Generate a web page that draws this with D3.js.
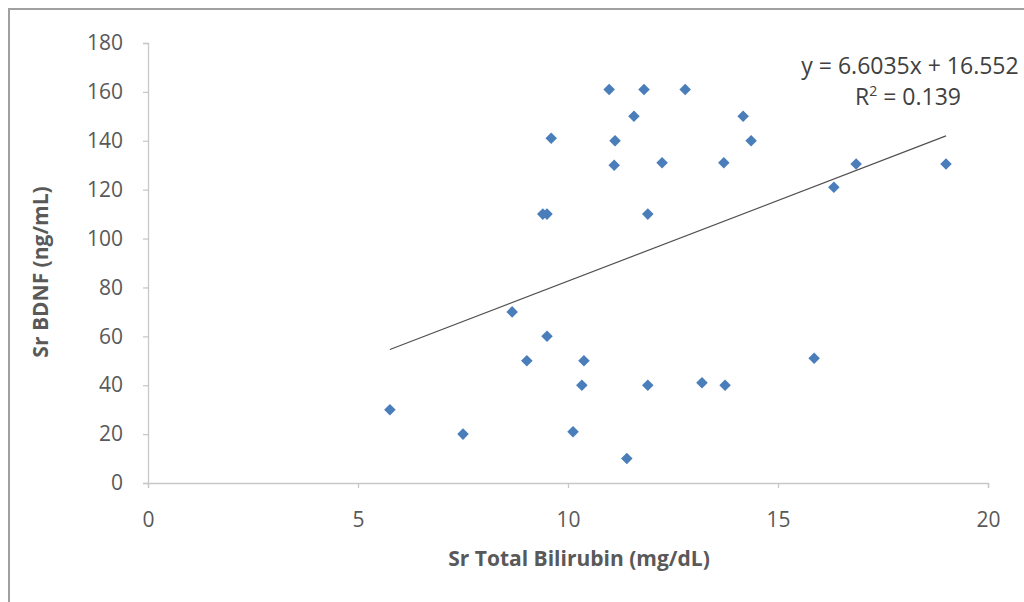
<!DOCTYPE html>
<html>
<head>
<meta charset="utf-8">
<script src="https://cdn.jsdelivr.net/npm/d3@7"></script>
<style>
  body { margin: 0; background: #fff; }
  svg { display: block; font-family: "Open Sans", "Lato", sans-serif; }
</style>
</head>
<body>
<svg id="chart" width="1024" height="602"></svg>
<script>
// data
var bilirubin = [5.76, 7.5, 8.67, 9.02, 9.4, 9.5, 9.5, 9.6, 10.12, 10.33, 10.38, 10.98, 11.1, 11.12,
  11.4, 11.57, 11.81, 11.9, 11.9, 12.24, 12.79, 13.19, 13.71, 13.74, 14.17, 14.36, 15.86, 16.33, 16.86, 19.0];
var bdnf = [30, 20, 70, 50, 110, 110, 60, 141, 21, 40, 50, 161, 130, 140,
  10, 150, 161, 40, 110, 131, 161, 41, 131, 40, 150, 140, 51, 121, 130.5, 130.5];
var xTicks = [0, 5, 10, 15, 20];
var yTicks = [0, 20, 40, 60, 80, 100, 120, 140, 160, 180];
var slope = 6.6035, intercept = 16.552;
var eqText = "y = 6.6035x + 16.552";

var svg = d3.select("#chart");

// outer frame
svg.append("path")
  .attr("d", "M9,1024 V9 H1024")
  .attr("fill", "none")
  .attr("stroke", "#a0a0a0")
  .attr("stroke-width", 2);

var x = d3.scaleLinear().domain([0, 20]).range([148, 988]);
var y = d3.scaleLinear().domain([0, 180]).range([483, 43]);

// y axis
var yAxis = svg.append("g")
  .attr("transform", "translate(148,0)")
  .call(d3.axisLeft(y).tickValues(yTicks).tickSize(5).tickPadding(20));
// x axis
var xAxis = svg.append("g")
  .attr("transform", "translate(0,483)")
  .call(d3.axisBottom(x).tickValues(xTicks).tickSize(5).tickPadding(24));

[xAxis, yAxis].forEach(function(a) {
  a.selectAll("path, line").attr("stroke", "#c8c8c8").attr("stroke-width", 1.3);
  a.selectAll("text")
    .attr("fill", "#595959")
    .style("font-size", "21px")
    .style("font-family", "'Open Sans', sans-serif");
});

// axis titles
svg.append("text")
  .attr("x", 579)
  .attr("y", 566)
  .attr("text-anchor", "middle")
  .attr("fill", "#595959")
  .style("font-size", "21px")
  .style("font-weight", "bold")
  .text("Sr Total Bilirubin (mg/dL)");

svg.append("text")
  .attr("transform", "translate(48,272) rotate(-90)")
  .attr("text-anchor", "middle")
  .attr("fill", "#595959")
  .style("font-size", "21px")
  .style("font-weight", "bold")
  .text("Sr BDNF (ng/mL)");

// trend line
var x0 = d3.min(bilirubin), x1 = d3.max(bilirubin);
svg.append("line")
  .attr("x1", x(x0)).attr("y1", y(slope * x0 + intercept))
  .attr("x2", x(x1)).attr("y2", y(slope * x1 + intercept))
  .attr("stroke", "#505050")
  .attr("stroke-width", 1.2);

// points
var pts = bilirubin.map(function(d, i) { return [d, bdnf[i]]; });
svg.selectAll("path.pt")
  .data(pts)
  .enter()
  .append("path")
  .attr("class", "pt")
  .attr("d", d3.symbol().type(d3.symbolDiamond2).size(85))
  .attr("transform", function(d) {
    return "translate(" + x(d[0]) + "," + y(d[1]) + ")";
  })
  .attr("fill", "#4a7ebb");

// equation label
var eq = svg.append("g")
  .attr("fill", "#404040")
  .style("font-size", "23px");
eq.append("text")
  .attr("x", 910)
  .attr("y", 74)
  .attr("text-anchor", "middle")
  .text(eqText);
var r2 = eq.append("text")
  .attr("x", 908)
  .attr("y", 105)
  .attr("text-anchor", "middle");
r2.append("tspan").text("R");
r2.append("tspan").attr("dy", -9).style("font-size", "14px").text("2");
r2.append("tspan").attr("dy", 9).text(" = 0.139");
</script>
</body>
</html>
